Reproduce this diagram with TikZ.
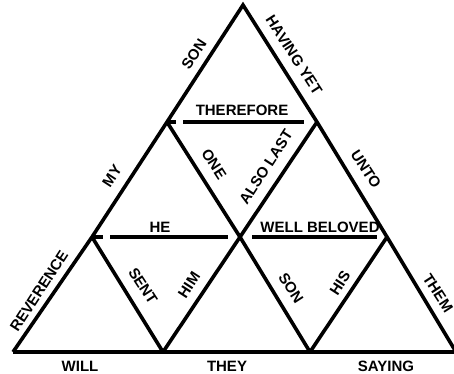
\documentclass[tikz,border=0pt]{standalone}
\usepackage{fontspec}
\setmainfont{Liberation Sans}
\usetikzlibrary{calc}
\begin{document}
\begin{tikzpicture}[x=1pt,y=-1pt,
  edge/.style={line width=3.6pt,line join=miter,line cap=butt},
  lbl/.style={font=\fontsize{15}{15}\selectfont\bfseries,inner sep=0pt}]
\useasboundingbox (0,0) rectangle (454,373);
% vertices
\coordinate (A) at (243,5);
\coordinate (B1) at (167,122);
\coordinate (B2) at (317,122);
\coordinate (C1) at (92,237);
\coordinate (C2) at (240,237);
\coordinate (C3) at (387,237);
\coordinate (D1) at (13,352);
\coordinate (D2) at (163,352);
\coordinate (D3) at (310,352);
\coordinate (D4) at (456,352);
% slanted edges
\draw[edge] (D1) -- (C1) -- (B1) -- (A) -- (B2) -- (C3) -- (D4);
\draw[edge] (B1) -- (C2) -- (D3);
\draw[edge] (B2) -- (C2) -- (D2);
\draw[edge] (C1) -- (D2);
\draw[edge] (C3) -- (D3);
\draw[edge] (D1) -- (D4);
% horizontal edges with gaps
\draw[edge] (B1) -- ($(B1)+(9,0)$);
\draw[edge] ($(B1)+(16,0)$) -- ($(B2)+(-13,0)$);
\draw[edge] (C1) -- ($(C1)+(11,0)$);
\draw[edge] ($(C1)+(18,0)$) -- ($(C2)+(-12,0)$);
\draw[edge] ($(C2)+(12,0)$) -- ($(C3)+(-10,0)$);
% labels
\node[lbl,rotate=57] (son1) at (194,54) {SON};
\node[lbl,rotate=-57] (having) at (294,55) {HAVING YET};
\node[lbl] (therefore) at (242,110) {THEREFORE};
\node[lbl,rotate=57] (my) at (112,176) {MY};
\node[lbl,rotate=-57] (one) at (214,164) {ONE};
\node[lbl,rotate=57] (also) at (266,167) {ALSO LAST};
\node[lbl,rotate=-57] (unto) at (366,169) {UNTO};
\node[lbl] (he) at (160,227) {HE};
\node[lbl] (well) at (320,227) {WELL BELOVED};
\node[lbl,rotate=57] (rev) at (39,291) {REVERENCE};
\node[lbl,rotate=-57] (sent) at (143,286) {SENT};
\node[lbl,rotate=57] (him) at (189,285) {HIM};
\node[lbl,rotate=-57] (son2) at (291,288) {SON};
\node[lbl,rotate=57] (his) at (340,283) {HIS};
\node[lbl,rotate=-57] (them) at (438,293) {THEM};
\node[lbl] (will) at (80,366) {WILL};
\node[lbl] (they) at (227,366) {THEY};
\node[lbl] (saying) at (386,366) {SAYING};
\end{tikzpicture}
\end{document}
